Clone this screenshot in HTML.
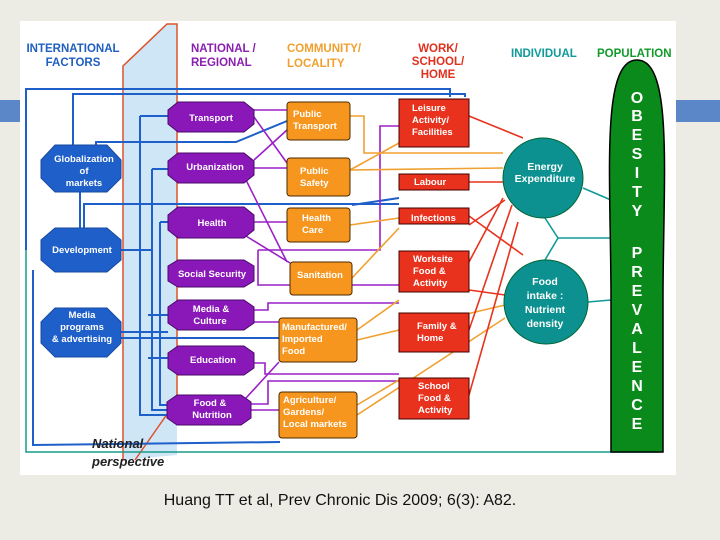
<!DOCTYPE html>
<html><head><meta charset="utf-8"><style>
body{margin:0;width:720px;height:540px;background:#ecebe4;overflow:hidden;font-family:"Liberation Sans",sans-serif}
svg{position:absolute;left:0;top:0}
</style></head><body>
<svg width="720" height="540" viewBox="0 0 720 540" font-family="Liberation Sans, sans-serif" font-weight="bold">
<rect x="0" y="100" width="20" height="22" fill="#5b87c9"/>
<rect x="676" y="100" width="44" height="22" fill="#5b87c9"/>
<rect x="20" y="21" width="656" height="454" fill="#fff"/>
<rect x="26" y="20" width="0" height="0"/>
<!-- blue band -->
<polygon points="123,66 167,24 177,24 177,455 123,460" fill="#cfe6f7"/>
<polyline points="123,460 123,66 167,24 177,24 177,400 135,460" fill="none" stroke="#e0502a" stroke-width="1.5"/>
<!-- headers -->
<g font-size="11.5">
<text x="73" y="52" text-anchor="middle" fill="#1f5fbf">INTERNATIONAL</text>
<text x="73" y="66" text-anchor="middle" fill="#1f5fbf">FACTORS</text>
<text x="191" y="52" fill="#8a1fb0">NATIONAL /</text>
<text x="191" y="66" fill="#8a1fb0">REGIONAL</text>
<text x="287" y="52" fill="#f0a030">COMMUNITY/</text>
<text x="287" y="67" fill="#f0a030">LOCALITY</text>
<text x="438" y="52" text-anchor="middle" fill="#e0301e">WORK/</text>
<text x="438" y="65" text-anchor="middle" fill="#e0301e">SCHOOL/</text>
<text x="438" y="78" text-anchor="middle" fill="#e0301e">HOME</text>
<text x="511" y="57" fill="#109a9a">INDIVIDUAL</text>
<text x="597" y="57" fill="#129a2a">POPULATION</text>
</g>
<!-- connectors blue -->
<g fill="none" stroke="#1f5fc9" stroke-width="2">
<polyline points="26,250 26,89 450,89 450,97"/>
<polyline points="73,145 73,94 465,94 465,97"/>
<polyline points="80,228 80,192"/>
<polyline points="84,228 84,204 399,204"/>
<polyline points="121,250 153,250"/>
<polyline points="33,270 33,445 280,442"/>
<polyline points="121,332 168,332"/>
<polyline points="140,116 168,116"/><polyline points="140,116 140,415 168,415"/>
<polyline points="152,169 168,169"/><polyline points="152,169 152,410 168,410"/>
<polyline points="160,222 168,222"/><polyline points="160,222 160,405 168,405"/>
<polyline points="148,315 168,315"/><polyline points="148,358 168,358"/>
<polyline points="96,145 96,142 236,142 287,121"/>
<polyline points="121,338 279,338"/>
<polyline points="352,205 399,198"/>
</g>
<rect x="22" y="30" width="0" height="0"/>
<polyline points="26,250 26,452 660,452" fill="none" stroke="#189a8a" stroke-width="1.5"/>
<!-- purple connectors -->
<g fill="none" stroke="#9a20c8" stroke-width="1.6">
<line x1="254" y1="110" x2="287" y2="110"/><line x1="254" y1="117" x2="287" y2="163"/>
<line x1="254" y1="160" x2="287" y2="130"/><line x1="254" y1="168" x2="287" y2="168"/>
<line x1="246" y1="180" x2="287" y2="262"/><line x1="254" y1="222" x2="287" y2="222"/>
<line x1="246" y1="236" x2="290" y2="263"/>
<polyline points="258,250 258,285 399,285"/><polyline points="258,250 380,250 380,126 399,126"/>
<polyline points="254,310 268,310 268,303 399,303"/><line x1="254" y1="322" x2="279" y2="322"/>
<polyline points="254,363 265,363 265,374 399,374"/><polyline points="251,404 268,404 268,381 399,381"/>
<line x1="251" y1="410" x2="279" y2="410"/><line x1="246" y1="398" x2="279" y2="362"/>
</g>
<!-- orange connectors -->
<g fill="none" stroke="#f0a030" stroke-width="1.6">
<polyline points="350,116 364,116 364,153 503,153"/><line x1="350" y1="170" x2="503" y2="168"/>
<line x1="350" y1="170" x2="399" y2="143"/><line x1="350" y1="225" x2="399" y2="218"/>
<line x1="352" y1="278" x2="399" y2="228"/><line x1="357" y1="330" x2="399" y2="300"/>
<line x1="357" y1="405" x2="399" y2="380"/><line x1="357" y1="340" x2="505" y2="305"/>
<line x1="357" y1="415" x2="505" y2="318"/>
</g>
<!-- red connectors -->
<g fill="none" stroke="#e8321e" stroke-width="1.6">
<line x1="469" y1="116" x2="523" y2="138"/><line x1="469" y1="182" x2="503" y2="182"/>
<line x1="469" y1="216" x2="523" y2="255"/><line x1="469" y1="262" x2="503" y2="198"/>
<line x1="469" y1="330" x2="512" y2="205"/><line x1="469" y1="395" x2="518" y2="222"/>
<line x1="469" y1="290" x2="505" y2="295"/><line x1="469" y1="225" x2="505" y2="200"/>
</g>
<g fill="none" stroke="#109a9a" stroke-width="1.6">
<line x1="583" y1="188" x2="611" y2="200"/><polyline points="545,218 558,238 611,238"/>
<line x1="558" y1="238" x2="545" y2="260"/><line x1="588" y1="302" x2="611" y2="300"/>
</g>
<!-- blue octagons -->
<g fill="#1f5fc9" stroke="#174aa0">
<polygon points="55,145 107,145 121,160 121,178 107,192 55,192 41,178 41,160"/>
<polygon points="55,228 107,228 121,240 121,260 107,272 55,272 41,260 41,240"/>
<polygon points="55,308 107,308 121,322 121,343 107,357 55,357 41,343 41,322"/>
</g>
<g fill="#fff" font-size="9.5" text-anchor="middle">
<text x="84" y="162">Globalization</text><text x="84" y="174">of</text><text x="84" y="186">markets</text>
<text x="82" y="253">Development</text>
<text x="82" y="318">Media</text><text x="82" y="330">programs</text><text x="82" y="342">&amp; advertising</text>
</g>
<!-- purple octagons -->
<g fill="#8a18b8" stroke="#4a0a6a">
<polygon points="178,102 244,102 254,110 254,124 244,132 178,132 168,124 168,110"/>
<polygon points="178,153 244,153 254,161 254,175 244,183 178,183 168,175 168,161"/>
<polygon points="178,207 244,207 254,215 254,230 244,238 178,238 168,230 168,215"/>
<polygon points="178,260 244,260 254,266 254,281 244,287 178,287 168,281 168,266"/>
<polygon points="178,300 244,300 254,307 254,323 244,330 178,330 168,323 168,307"/>
<polygon points="178,346 244,346 254,353 254,368 244,375 178,375 168,368 168,353"/>
<polygon points="177,395 241,395 251,402 251,418 241,425 177,425 167,418 167,402"/>
</g>
<g fill="#fff" font-size="9.5" text-anchor="middle">
<text x="211" y="121">Transport</text><text x="215" y="170">Urbanization</text><text x="212" y="226">Health</text>
<text x="212" y="277">Social Security</text><text x="211" y="312">Media &amp;</text><text x="210" y="324">Culture</text>
<text x="213" y="363">Education</text><text x="210" y="406">Food &amp;</text><text x="212" y="418">Nutrition</text>
</g>
<!-- orange boxes -->
<g fill="#f7961e" stroke="#4a2a00">
<rect x="287" y="102" width="63" height="38" rx="3"/><rect x="287" y="158" width="63" height="38" rx="3"/>
<rect x="287" y="208" width="63" height="34" rx="3"/><rect x="290" y="262" width="62" height="33" rx="3"/>
<rect x="279" y="318" width="78" height="44" rx="3"/><rect x="279" y="392" width="78" height="46" rx="3"/>
</g>
<g fill="#fff" font-size="9.5">
<text x="293" y="117">Public</text><text x="293" y="129">Transport</text>
<text x="300" y="174">Public</text><text x="300" y="186">Safety</text>
<text x="302" y="221">Health</text><text x="302" y="233">Care</text>
<text x="297" y="278">Sanitation</text>
<text x="282" y="330">Manufactured/</text><text x="282" y="342">Imported</text><text x="282" y="354">Food</text>
<text x="283" y="403">Agriculture/</text><text x="283" y="415">Gardens/</text><text x="283" y="427">Local markets</text>
</g>
<!-- red boxes -->
<g fill="#e8321e" stroke="#400">
<rect x="399" y="99" width="70" height="48"/><rect x="399" y="174" width="70" height="16"/>
<rect x="399" y="208" width="70" height="16"/><rect x="399" y="251" width="70" height="41"/>
<rect x="399" y="313" width="70" height="39"/><rect x="399" y="378" width="70" height="41"/>
</g>
<g fill="#fff" font-size="9.5">
<text x="412" y="111">Leisure</text><text x="412" y="123">Activity/</text><text x="412" y="135">Facilities</text>
<text x="414" y="185">Labour</text><text x="411" y="221">Infections</text>
<text x="413" y="262">Worksite</text><text x="413" y="274">Food &amp;</text><text x="413" y="286">Activity</text>
<text x="417" y="329">Family &amp;</text><text x="417" y="341">Home</text>
<text x="418" y="389">School</text><text x="418" y="401">Food &amp;</text><text x="418" y="413">Activity</text>
</g>
<!-- teal circles -->
<circle cx="543" cy="178" r="40" fill="#0d9090" stroke="#063"/>
<circle cx="546" cy="302" r="42" fill="#0d9090" stroke="#063"/>
<g fill="#fff" font-size="10.5" text-anchor="middle">
<text x="545" y="170">Energy</text><text x="545" y="182">Expenditure</text>
<text x="545" y="285">Food</text><text x="545" y="299">intake :</text><text x="545" y="313">Nutrient</text><text x="545" y="327">density</text>
</g>
<!-- green ellipse -->
<path d="M637,60 C600,60 611,180 611,300 L611,452 L663,452 L663,300 C663,180 674,60 637,60Z" fill="#0a8a1a" stroke="#000" stroke-width="1.5"/>
<g fill="#fff" font-size="16" text-anchor="middle">
<text x="637" y="103">O</text><text x="637" y="121">B</text><text x="637" y="140">E</text><text x="637" y="159">S</text>
<text x="637" y="178">I</text><text x="637" y="197">T</text><text x="637" y="216">Y</text>
<text x="637" y="258">P</text><text x="637" y="277">R</text><text x="637" y="296">E</text><text x="637" y="315">V</text>
<text x="637" y="334">A</text><text x="637" y="353">L</text><text x="637" y="372">E</text><text x="637" y="391">N</text>
<text x="637" y="410">C</text><text x="637" y="429">E</text>
</g>
<g font-size="13" font-style="italic" fill="#222">
<text x="92" y="448">National</text><text x="92" y="466">perspective</text>
</g>
<text x="340" y="505" text-anchor="middle" font-weight="normal" font-size="16" fill="#111">Huang TT et al, Prev Chronic Dis 2009; 6(3): A82.</text>
</svg>
</body></html>
